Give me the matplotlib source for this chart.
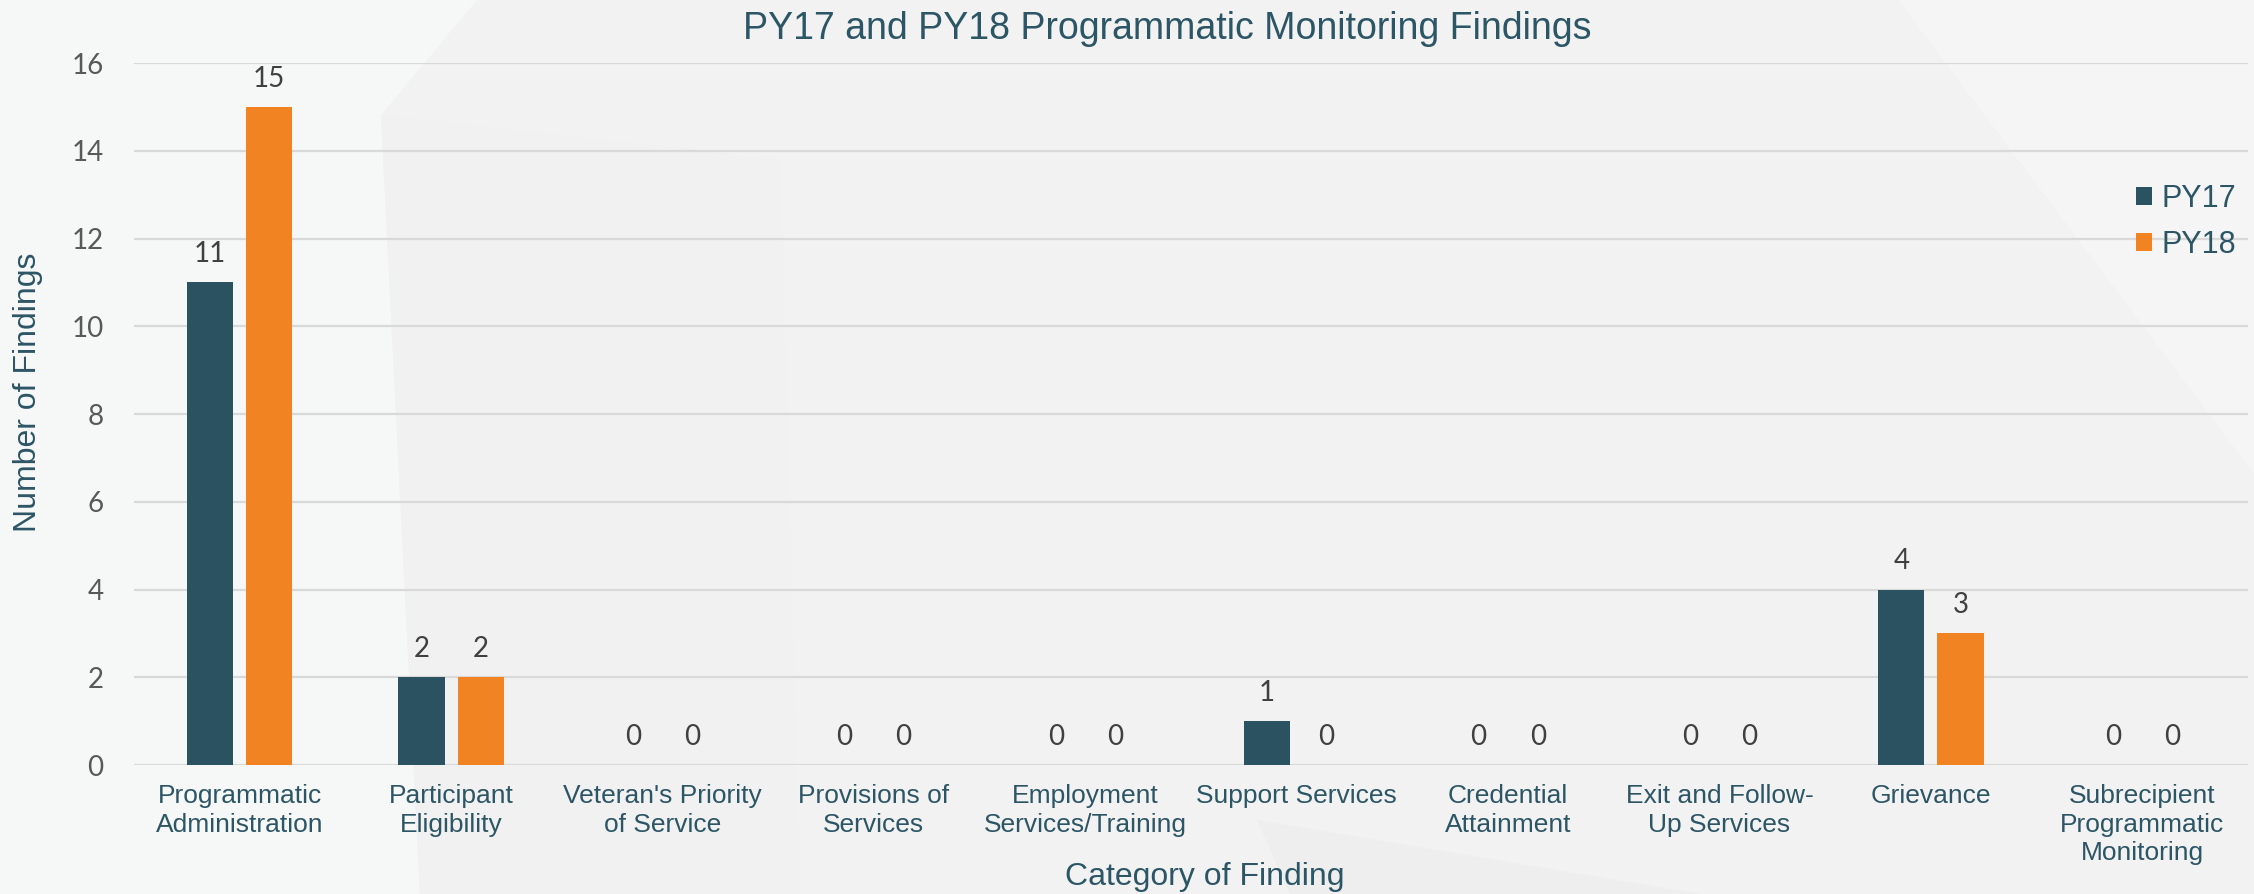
import numpy as np
import matplotlib
matplotlib.use("Agg")
import matplotlib.pyplot as plt
from matplotlib.patches import Polygon, Patch

# ---- data ----
categories = [
    "Programmatic\nAdministration",
    "Participant\nEligibility",
    "Veteran's Priority\nof Service",
    "Provisions of\nServices",
    "Employment\nServices/Training",
    "Support Services",
    "Credential\nAttainment",
    "Exit and Follow-\nUp Services",
    "Grievance",
    "Subrecipient\nProgrammatic\nMonitoring",
]
py17 = [11, 2, 0, 0, 0, 1, 0, 0, 4, 0]
py18 = [15, 2, 0, 0, 0, 0, 0, 0, 3, 0]
series_names = ["PY17", "PY18"]
yticks = [0, 2, 4, 6, 8, 10, 12, 14, 16]

# ---- style ----
W, H = 2254, 894
DPI = 100
C17 = "#2A5261"
C18 = "#F28322"
TEAL = "#2C5565"
GRID = "#D9D9D9"
BG = "#F2F2F2"
TXT_FONT = ["Liberation Sans", "DejaVu Sans"]
NUM_FONT = ["Lato", "DejaVu Sans"]

fig = plt.figure(figsize=(W / DPI, H / DPI), dpi=DPI, facecolor=BG)


def px_poly(pts, color):
    # pts in top-origin pixel coords -> figure fraction
    fp = [(x / W, 1 - y / H) for x, y in pts]
    fig.patches.append(Polygon(fp, closed=True, transform=fig.transFigure,
                               facecolor=color, edgecolor="none", zorder=-10))


# faint background facets
px_poly([(0, 0), (477, 0), (381, 115), (420, 894), (0, 894)], "#F6F7F7")
px_poly([(381, 115), (780, 160), (800, 894), (420, 894)], "#F1F1F1")
px_poly([(1898, 0), (2254, 0), (2254, 474)], "#F5F5F5")
px_poly([(1257, 820), (1700, 894), (1290, 894)], "#EEEEEE")

# axes placement (pixel coordinates measured on the reference)
ax_l, ax_r, ax_t, ax_b = 134, 2248, 63, 765
ax = fig.add_axes([ax_l / W, 1 - ax_b / H, (ax_r - ax_l) / W, (ax_b - ax_t) / H])
ax.set_facecolor("none")

x = np.arange(len(categories))
bw = 0.218
off = 0.14
b1 = ax.bar(x - off, py17, bw, color=C17, label=series_names[0], zorder=3)
b2 = ax.bar(x + off, py18, bw, color=C18, label=series_names[1], zorder=3)

for bars in (b1, b2):
    ax.bar_label(bars, padding=11, fontsize=20, family=NUM_FONT, color="#404040")

ax.set_xlim(-0.5, len(categories) - 0.5)
ax.set_ylim(0, 16)
ax.set_yticks(yticks)
ax.set_xticks(x)
ax.set_xticklabels(categories, fontsize=19, family=TXT_FONT, color=TEAL,
                   linespacing=1.23)
for lab in ax.get_yticklabels():
    lab.set_fontfamily(NUM_FONT)
ax.tick_params(axis="y", length=0, pad=22, labelsize=20, labelcolor="#595959")
ax.tick_params(axis="x", length=0, pad=14)

ax.grid(axis="y", color=GRID, linewidth=1.6, zorder=0)
ax.set_axisbelow(True)
for s in ax.spines.values():
    s.set_visible(False)

ax.set_xlabel("Category of Finding", fontsize=23, family=TXT_FONT, color=TEAL,
              va="center")
ax.xaxis.set_label_coords((1205 - ax_l) / (ax_r - ax_l), -(877 - ax_b) / (ax_b - ax_t))
ax.set_ylabel("Number of Findings", fontsize=23, family=TXT_FONT, color=TEAL,
              va="center")
ax.yaxis.set_label_coords((28 - ax_l) / (ax_r - ax_l), (ax_b - 392) / (ax_b - ax_t))

fig.text(1167 / W, 1 - 29 / H, "PY17 and PY18 Programmatic Monitoring Findings",
         ha="center", va="center", fontsize=27, family=TXT_FONT, color=TEAL)

handles = [Patch(facecolor=C17), Patch(facecolor=C18)]
leg = fig.legend(handles, series_names, loc="upper left",
                 bbox_to_anchor=(2136 / W, 1 - 184 / H),
                 frameon=False, handlelength=0.52, handleheight=0.52,
                 handletextpad=0.3, labelspacing=0.53, borderpad=0, borderaxespad=0,
                 prop={"family": TXT_FONT, "size": 22})
for t in leg.get_texts():
    t.set_color(TEAL)

fig.savefig("out.png", dpi=DPI, facecolor=BG)
